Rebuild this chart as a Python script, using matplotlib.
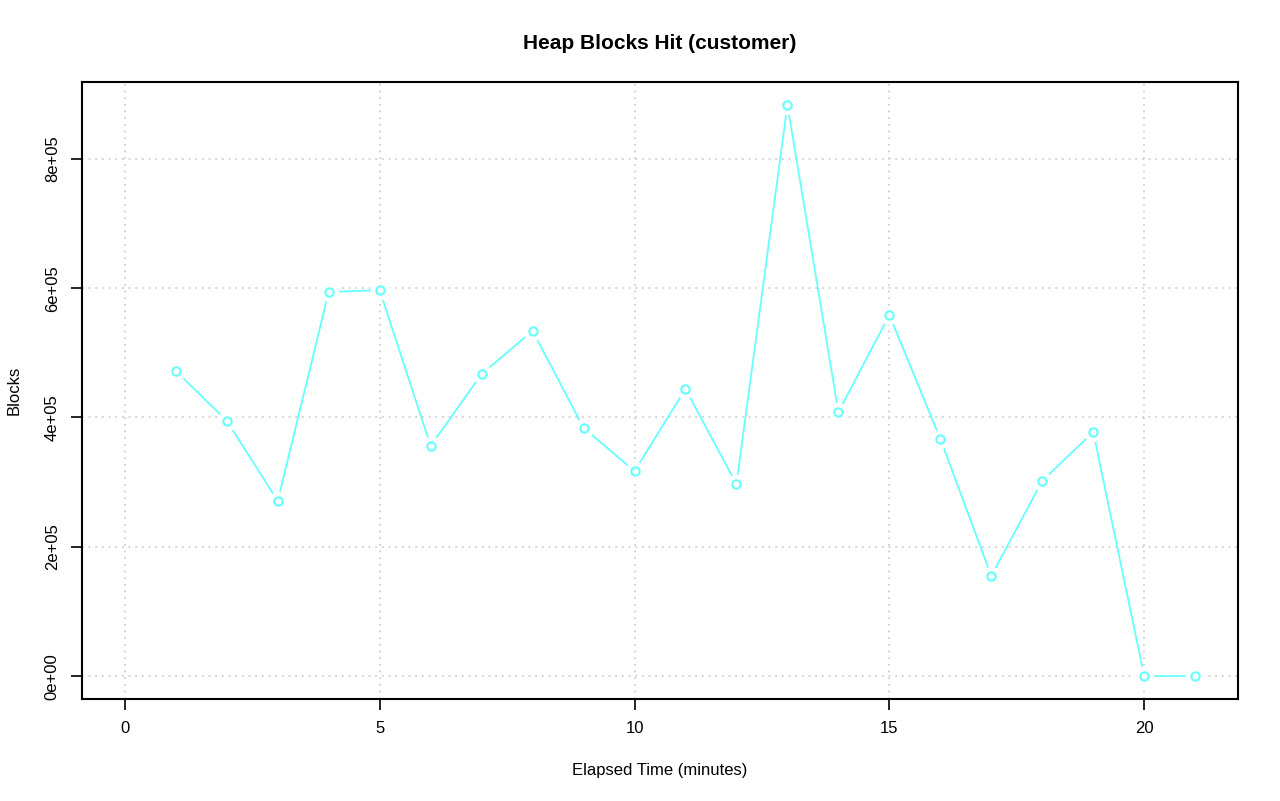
import numpy as np
import matplotlib
matplotlib.use("Agg")
import matplotlib.pyplot as plt

plt.rcParams['font.family'] = ['Liberation Sans', 'DejaVu Sans']

minutes = list(range(1, 22))
blocks = [472000, 395000, 271000, 594000, 597000, 356000, 467000, 534000,
          384000, 317000, 444000, 297000, 883500, 408500, 558500, 367000,
          155000, 302000, 377500, 0, 0]
xticks = [0, 5, 10, 15, 20]
yticks = [0, 200000, 400000, 600000, 800000]
ytick_labels = ["0e+00", "2e+05", "4e+05", "6e+05", "8e+05"]

fig = plt.figure(figsize=(12.8, 8.01), dpi=100)
ax = fig.add_axes([82 / 1280, 102 / 801, (1238 - 82) / 1280, (699 - 82) / 801])

pad_y = 0.04 * max(blocks)
ax.set_xlim(-0.84, 21.84)
ax.set_ylim(-pad_y, max(blocks) + pad_y)

for v in xticks:
    ax.axvline(v, color='#c8c8c8', ls=(0, (1, 3)), lw=1.2, zorder=0)
for v in yticks:
    ax.axhline(v, color='#c8c8c8', ls=(0, (1, 3)), lw=1.2, zorder=0)

col = '#66ffff'
# R type="b": line with gaps around the points
ax.plot(minutes, blocks, color=col, lw=1.3, zorder=2)
ax.plot(minutes, blocks, 'o', ms=13, color='white', mec='white', zorder=3)
ax.plot(minutes, blocks, 'o', ms=6, mfc='white', mec=col, mew=1.5, zorder=4)

ax.set_xticks(xticks)
ax.set_xticklabels([str(v) for v in xticks])
ax.set_yticks(yticks)
ax.set_yticklabels(ytick_labels, rotation=90, va='center')
ax.tick_params(direction='out', length=8, width=1.2, labelsize=12, pad=8)
for s in ax.spines.values():
    s.set_linewidth(1.5)

ax.set_title("Heap Blocks Hit (customer)", fontsize=15, fontweight='bold', pad=24)
ax.set_xlabel("Elapsed Time (minutes)", fontsize=12, labelpad=19)
ax.set_ylabel("Blocks", fontsize=12, labelpad=17)

fig.savefig("out.png", dpi=100)
